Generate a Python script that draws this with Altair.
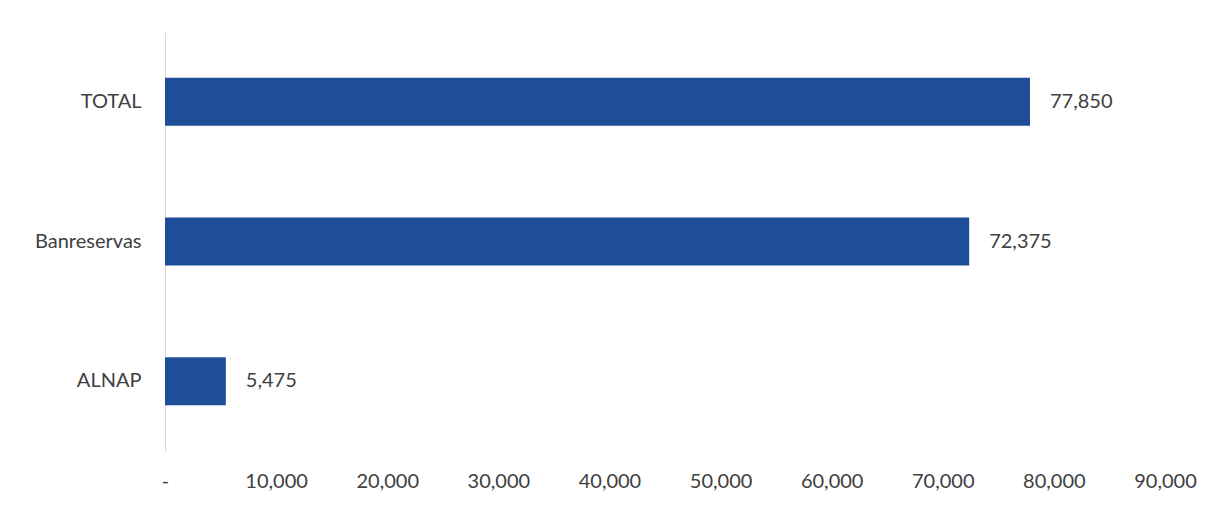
import altair as alt
import pandas as pd

categories = ["TOTAL", "Banreservas", "ALNAP"]
values = [77850, 72375, 5475]
tick_values = [0, 10000, 20000, 30000, 40000, 50000, 60000, 70000, 80000, 90000]

df = pd.DataFrame({"cat": categories, "val": values})

font = "Lato"
fs = 20
y_enc = alt.Y("cat:N", sort=categories, title=None,
              scale=alt.Scale(paddingInner=0.656, paddingOuter=0.328),
              axis=alt.Axis(ticks=False, domainColor="#d9d9d9", domainWidth=1,
                            labelFont=font, labelFontSize=fs, labelColor="#404040",
                            labelPadding=24))
x_enc = alt.X("val:Q", title=None,
              scale=alt.Scale(domain=[0, 90000], nice=False),
              axis=alt.Axis(values=tick_values, grid=False, domain=False, ticks=False,
                            labelFont=font, labelFontSize=fs, labelColor="#404040",
                            labelPadding=20, labelFlush=False,
                            labelExpr="datum.value == 0 ? '-' : format(datum.value, ',')"))

bars = alt.Chart(df).mark_bar(color="#1f4e99").encode(y=y_enc, x=x_enc)
labels = alt.Chart(df).mark_text(align="left", dx=20, font=font, fontSize=fs,
                                 color="#404040").encode(
    y=alt.Y("cat:N", sort=categories),
    x="val:Q",
    text=alt.Text("val:Q", format=","))

chart = (bars + labels).properties(
    width=1000, height=419,
    autosize=alt.AutoSizeParams(type="none"),
    padding={"left": 157, "top": 24, "right": 50, "bottom": 50},
).configure(background="white").configure_view(stroke=None, strokeWidth=0)

chart.save("out.html", embed_options={"renderer": "svg", "actions": False})
